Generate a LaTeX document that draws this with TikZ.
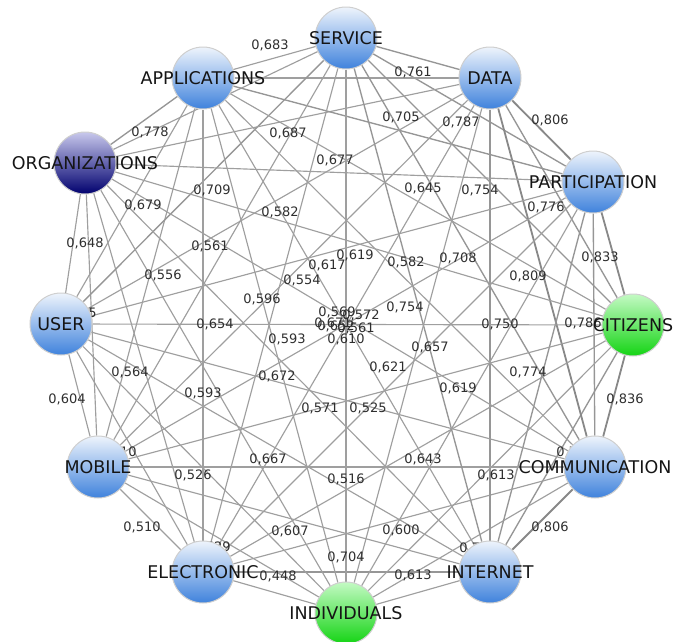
\documentclass[tikz,border=0pt]{standalone}
\usepackage{fontspec}
\setmainfont{DejaVu Sans}
\usetikzlibrary{backgrounds}
\definecolor{blueTop}{HTML}{EEF4FC}
\definecolor{blueBot}{HTML}{3F82DC}
\definecolor{grTop}{HTML}{C4FAC4}
\definecolor{grBot}{HTML}{14D414}
\definecolor{nvTop}{HTML}{C8C8EC}
\definecolor{nvBot}{HTML}{00006E}
\definecolor{ndBorder}{HTML}{CFCFCF}
\definecolor{edgeC}{HTML}{9F9F9F}
\definecolor{edgeM}{HTML}{969696}
\definecolor{edgeT}{HTML}{888888}
\definecolor{txt}{HTML}{151515}
\definecolor{lbltxt}{HTML}{2E2E2E}
\tikzset{
  nd/.style={circle, minimum size=62pt, inner sep=0pt, draw=ndBorder, line width=1pt,
    top color=blueTop, bottom color=blueBot, text=txt, font=\fontsize{17.5}{18}\selectfont},
  grn/.style={top color=grTop, bottom color=grBot},
  nav/.style={top color=nvTop, bottom color=nvBot},
  lbl/.style={font=\fontsize{13}{14}\selectfont, text=lbltxt, inner sep=0pt},
  e1/.style={draw=edgeC, line width=1.15pt},
  e2/.style={draw=edgeM, line width=1.35pt},
  e3/.style={draw=edgeT, line width=1.8pt}
}
\begin{document}
\begin{tikzpicture}[x=1pt, y=-1pt]
\useasboundingbox (0,0) rectangle (673,641);
% nodes
\node[nd] (S)  at (346,38)  {\makebox[0pt]{SERVICE}};
\node[nd] (D)  at (490,78)  {\makebox[0pt]{DATA}};
\node[nd] (P)  at (593,182) {\makebox[0pt]{PARTICIPATION}};
\node[nd, grn] (C)  at (633,325) {\makebox[0pt]{CITIZENS}};
\node[nd] (Co) at (595,467) {\makebox[0pt]{COMMUNICATION}};
\node[nd] (I)  at (490,572) {\makebox[0pt]{INTERNET}};
\node[nd, grn] (Id) at (346,613) {\makebox[0pt]{INDIVIDUALS}};
\node[nd] (E)  at (203,572) {\makebox[0pt]{ELECTRONIC}};
\node[nd] (M)  at (98,467)  {\makebox[0pt]{MOBILE}};
\node[nd] (U)  at (61,324)  {\makebox[0pt]{USER}};
\node[nd, nav] (O)  at (85,163)  {\makebox[0pt]{ORGANIZATIONS}};
\node[nd] (A)  at (203,78)  {\makebox[0pt]{APPLICATIONS}};
\begin{scope}[on background layer]
% step 1
\draw[e2] (S) -- (D);   \draw[e3] (D) -- (P);   \draw[e3] (P) -- (C);
\draw[e3] (C) -- (Co);  \draw[e3] (Co) -- (I);  \draw[e1] (I) -- (Id);
\draw[e1] (Id) -- (E);  \draw[e1] (E) -- (M);   \draw[e1] (M) -- (U);
\draw[e1] (U) -- (O);   \draw[e2] (O) -- (A);   \draw[e1] (A) -- (S);
% step 2
\draw[e2] (S) -- (P);   \draw[e2] (D) -- (C);   \draw[e2] (P) -- (Co);
\draw[e2] (C) -- (I);   \draw[e1] (Co) -- (Id); \draw[e2] (I) -- (E);
\draw[e1] (Id) -- (M);  \draw[e1] (E) -- (U);   \draw[e1] (M) -- (O);
\draw[e1] (U) -- (A);   \draw[e1] (O) -- (S);   \draw[e1] (A) -- (D);
% step 3
\draw[e2] (S) -- (C);   \draw[e3] (D) -- (Co);  \draw[e2] (P) -- (I);
\draw[e1] (C) -- (Id);  \draw[e1] (Co) -- (E);  \draw[e1] (I) -- (M);
\draw[e1] (Id) -- (U);  \draw[e1] (E) -- (O);   \draw[e1] (M) -- (A);
\draw[e2] (U) -- (S);   \draw[e1] (O) -- (D);   \draw[e2] (A) -- (P);
% step 4
\draw[e2] (S) -- (Co);  \draw[e2] (D) -- (I);   \draw[e1] (P) -- (Id);
\draw[e1] (C) -- (E);   \draw[e1] (Co) -- (M);  \draw[e1] (I) -- (U);
\draw[e1] (Id) -- (O);  \draw[e1] (E) -- (A);   \draw[e1] (M) -- (S);
\draw[e1] (U) -- (D);   \draw[e1] (O) -- (P);   \draw[e1] (A) -- (C);
% step 5
\draw[e2] (S) -- (I);   \draw[e1] (D) -- (Id);  \draw[e1] (P) -- (E);
\draw[e1] (C) -- (M);   \draw[e1] (Co) -- (U);  \draw[e1] (I) -- (O);
\draw[e1] (Id) -- (A);  \draw[e1] (E) -- (S);   \draw[e1] (M) -- (D);
\draw[e1] (U) -- (P);   \draw[e1] (O) -- (C);   \draw[e1] (A) -- (Co);
% step 6 (diameters)
\draw[e1] (S) -- (Id);  \draw[e1] (D) -- (E);   \draw[e1] (P) -- (M);
\draw[e1] (C) -- (U);   \draw[e1] (Co) -- (O);  \draw[e1] (I) -- (A);
% labels step 1
\node[lbl] (l01) at (413,72)  {0,761};
\node[lbl] (l12) at (550,120) {0,806};
\node[lbl] (l23) at (600,257) {0,833};
\node[lbl] (l34) at (625,399) {0,836};
\node[lbl] (l45) at (550,527) {0,806};
\node[lbl] (l56) at (413,575) {0,613};
\node[lbl] (l67) at (278,576) {0,448};
\node[lbl] (l78) at (142,527) {0,510};
\node[lbl] (l89) at (67,399)  {0,604};
\node[lbl] (l910) at (85,243) {0,648};
\node[lbl] (l1011) at (150,132) {0,778};
\node[lbl] (l110) at (270,45) {0,683};
% labels step 2
\node[lbl] (l02) at (461,122) {0,787};
\node[lbl] (l13) at (546,207) {0,776};
\node[lbl] (l24) at (583,323) {0,786};
\node[lbl] (l35) at (575,452) {0,795};
\node[lbl] (l46) at (478,548) {0,731};
\node[lbl] (l57) at (346,557) {0,704};
\node[lbl] (l68) at (212,547) {0,629};
\node[lbl] (l79) at (118,452) {0,610};
\node[lbl] (l810) at (78,313) {0,665};
\node[lbl] (l911) at (143,205) {0,679};
% labels step 3
\node[lbl] (l03) at (480,190) {0,754};
\node[lbl] (l14) at (528,276) {0,809};
\node[lbl] (l25) at (528,372) {0,774};
\node[lbl] (l36) at (496,475) {0,613};
\node[lbl] (l47) at (401,530) {0,600};
\node[lbl] (l58) at (290,531) {0,607};
\node[lbl] (l69) at (193,475) {0,526};
\node[lbl] (l710) at (130,372) {0,564};
\node[lbl] (l811) at (163,275) {0,556};
\node[lbl] (l90) at (212,190) {0,709};
\node[lbl] (l101) at (288,133) {0,687};
\node[lbl] (l112) at (401,117) {0,705};
% labels step 4
\node[lbl] (l04) at (458,258) {0,708};
\node[lbl] (l15) at (500,324) {0,750};
\node[lbl] (l26) at (458,388) {0,619};
\node[lbl] (l37) at (423,459) {0,643};
\node[lbl] (l48) at (346,479) {0,516};
\node[lbl] (l59) at (268,459) {0,667};
\node[lbl] (l610) at (203,393) {0,593};
\node[lbl] (l711) at (215,324) {0,654};
\node[lbl] (l80) at (210,246) {0,561};
\node[lbl] (l91) at (280,212) {0,582};
\node[lbl] (l102) at (335,160) {0,677};
\node[lbl] (l113) at (423,188) {0,645};
% labels step 5
\node[lbl] (l05) at (405,307) {0,754};
\node[lbl] (l16) at (430,347) {0,657};
\node[lbl] (l27) at (388,367) {0,621};
\node[lbl] (l38) at (368,408) {0,525};
\node[lbl] (l49) at (320,408) {0,571};
\node[lbl] (l510) at (277,376) {0,672};
\node[lbl] (l611) at (287,339) {0,593};
\node[lbl] (l70) at (262,299) {0,596};
\node[lbl] (l81) at (302,280) {0,554};
\node[lbl] (l92) at (327,265) {0,617};
\node[lbl] (l103) at (355,255) {0,619};
\node[lbl] (l114) at (406,262) {0,582};
% labels step 6
\node[lbl] (l06) at (337,312) {0,569};
\node[lbl] (l17) at (361,315) {0,572};
\node[lbl] (l28) at (356,328) {0,561};
\node[lbl] (l39) at (346,339) {0,610};
\node[lbl] (l410) at (333,323) {0,671};
\node[lbl] (l511) at (336,326) {0,652};
\end{scope}
\end{tikzpicture}
\end{document}
